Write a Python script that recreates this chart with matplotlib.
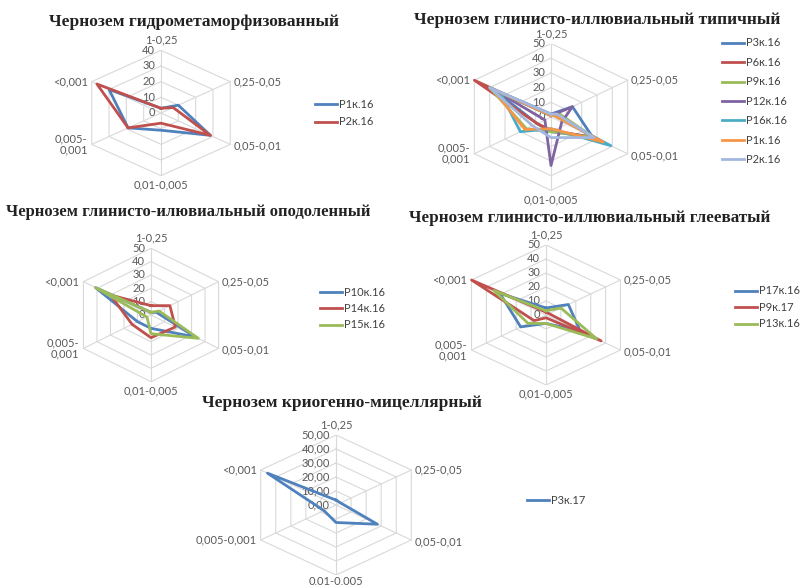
import numpy as np
import matplotlib.pyplot as plt

W, H = 800, 585

categories = ['1-0,25', '0,25-0,05', '0,05-0,01', '0,01-0,005', '0,005-0,001', '<0,001']

# Чернозем гидрометаморфизованный
p1_names = ['P1к.16', 'P2к.16']
p1_values = [
    [3, 10, 28.5, 11, 19, 30],
    [3, 7, 28.5, 6.5, 19, 37],
]

# Чернозем глинисто-иллювиальный типичный
p2_names = ['P3к.16', 'P6к.16', 'P9к.16', 'P12к.16', 'P16к.16', 'P1к.16', 'P2к.16']
p2_values = [
    [2, 14, 27, 10, 9, 38],
    [1, 3, 28, 9, 9, 50],
    [1, 5, 28, 10, 16, 40],
    [1, 14, 7, 33, 4, 38],
    [1, 2, 39, 8, 20, 33],
    [1, 2, 34, 8, 17, 38],
    [2, 4, 28, 14, 12, 40],
]

# Чернозем глинисто-илювиальный оподоленный
p3_names = ['P10к.16', 'P14к.16', 'P15к.16']
p3_values = [
    [2, 4, 33, 10, 10, 41],
    [7, 14, 18, 17, 14, 30],
    [2, 6, 35, 14, 3, 41],
]

# Чернозем глинисто-иллювиальный глееватый
p4_names = ['P17к.16', 'P9к.17', 'P13к.16']
p4_values = [
    [5, 15, 23, 6, 17, 31],
    [2, 2, 37, 2, 8, 50],
    [3, 10, 34, 6, 12, 35],
]

# Чернозем криогенно-мицеллярный
p5_names = ['P3к.17']
p5_values = [
    [3.5, 3, 27.5, 12.5, 8, 45.5],
]

excel_colors = ['#4F81BD', '#C0504D', '#9BBB59', '#8064A2', '#4BACC6', '#F79646', '#A3B8DF']

label_font = dict(family='Lato', fontsize=8, color='#595959')

fig = plt.figure(figsize=(W / 100, H / 100), dpi=100)


def radar(cx, cy, rh, rv, rmax, values, names, title, title_xy, legend_xy,
          spacing, tick_fmt=str, cats=None, title_size=12.5, bottom_off=-9):
    ax = fig.add_axes([(cx - rh) / W, 1 - (cy + rv) / H, 2 * rh / W, 2 * rv / H])
    ax.set_xlim(-rmax, rmax)
    ax.set_ylim(-rmax, rmax)
    ax.axis('off')

    theta = np.arange(6) * np.pi / 3
    sx = np.append(np.sin(theta), 0.0)
    sy = np.append(np.cos(theta), 1.0)

    # hexagonal grid
    for r in range(10, rmax + 1, 10):
        ax.plot(r * sx, r * sy, color='#D9D9D9', lw=0.8, zorder=1)
    for i in range(6):
        ax.plot([0, rmax * sx[i]], [0, rmax * sy[i]], color='#D9D9D9', lw=0.8, zorder=1)

    for i, (vals, name) in enumerate(zip(values, names)):
        v = np.append(vals, vals[0])
        ax.plot(v * sx, v * sy, color=excel_colors[i], lw=2, label=name, zorder=3)

    # radial tick labels
    for r in range(0, rmax + 1, 10):
        ax.annotate(tick_fmt(r), (0, r), xytext=(-6, 0), textcoords='offset pixels',
                    ha='right', va='center', zorder=2, **label_font)

    # category labels
    cats = cats or categories
    offs = [(0, 10), (3, 0), (3, -2), (0, bottom_off), (-4, 0), (-4, 0)]
    has = ['center', 'left', 'left', 'center', 'right', 'right']
    for i, c in enumerate(cats):
        ax.annotate(c, (rmax * sx[i], rmax * sy[i]), xytext=offs[i], textcoords='offset pixels',
                    ha=has[i], va='center', linespacing=1.0, **label_font)

    fig.text(title_xy[0] / W, 1 - title_xy[1] / H, title, ha='center', va='center',
             family='Liberation Serif', fontsize=title_size, weight='bold', color='#222222')

    leg = ax.legend(loc='upper left', bbox_to_anchor=(legend_xy[0] / W, 1 - legend_xy[1] / H),
                    bbox_transform=fig.transFigure, frameon=False, borderpad=0,
                    borderaxespad=0, handlelength=2.0, handletextpad=0.2,
                    labelspacing=spacing, prop={'family': 'Lato', 'size': 8})
    for t in leg.get_texts():
        t.set_color('#404040')
    return ax


two_line = categories[:4] + ['0,005-\n0,001', '<0,001']

radar(161, 113, 80, 62.7, 40, p1_values, p1_names,
      'Чернозем гидрометаморфизованный', (194, 22), (315, 98.5), 0.62, cats=two_line)

radar(551, 117, 88.5, 73.5, 50, p2_values, p2_names,
      'Чернозем глинисто-иллювиальный типичный', (597, 20), (722, 37.5), 0.76, cats=two_line)

radar(151, 315, 78, 66.7, 50, p3_values, p3_names,
      'Чернозем глинисто-илювиальный оподоленный', (188, 212), (320, 286.5), 0.49,
      cats=two_line, title_size=12)

radar(546, 315, 86, 70, 50, p4_values, p4_names,
      'Чернозем глинисто-иллювиальный глееватый', (590, 218), (735, 285.5), 0.49,
      cats=two_line, title_size=12.3)

radar(336, 505, 87, 70, 50, p5_values, p5_names,
      'Чернозем криогенно-мицеллярный', (342, 403), (527, 494.5), 0.49,
      tick_fmt=lambda r: f'{r:.2f}'.replace('.', ','), bottom_off=-6)

fig.savefig('out.png', dpi=100, facecolor='white')
